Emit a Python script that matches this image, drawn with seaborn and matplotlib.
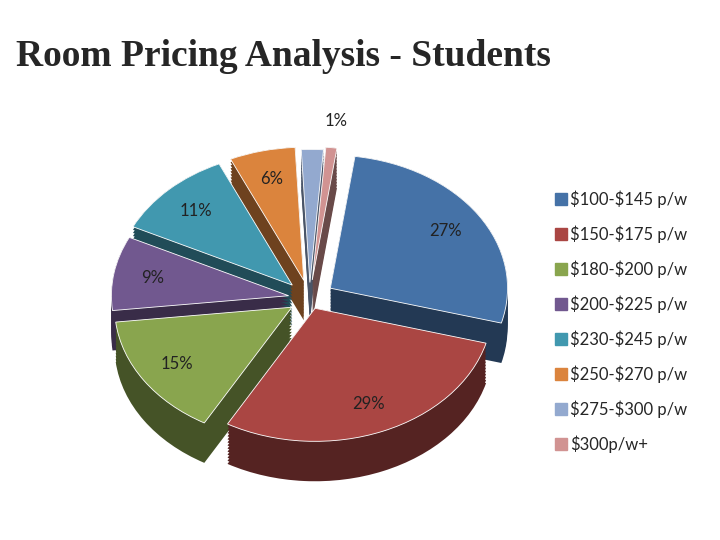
import matplotlib
matplotlib.use("Agg")
import matplotlib.pyplot as plt
import seaborn as sns
import numpy as np
from matplotlib.patches import Patch
from matplotlib.colors import to_rgb

sns.set_theme(style="white")
plt.rcParams['font.family'] = ['Lato', 'DejaVu Sans']
plt.rcParams['text.parse_math'] = False

categories = ["$100-$145 p/w", "$150-$175 p/w", "$180-$200 p/w", "$200-$225 p/w",
              "$230-$245 p/w", "$250-$270 p/w", "$275-$300 p/w", "$300p/w+"]
values = [27, 29, 15, 9, 11, 6, 2, 1]
shown = ["27%", "29%", "15%", "9%", "11%", "6%", "", "1%"]
colors = ["#4572A7", "#AA4643", "#89A54E", "#71588F", "#4198AF", "#DB843D", "#93A9CF", "#D19392"]
explode = [0.14, 0.08, 0.12, 0.12, 0.14, 0.14, 0.12, 0.14]

fig = plt.figure(figsize=(7.2, 5.4), dpi=100)
ax = fig.add_axes([0.11, 0.09, 0.64, 0.69])
dark = [tuple(c * 0.5 for c in to_rgb(col)) for col in colors]
for d in np.linspace(0.3, 0.0, 14):
    ax.pie(values, colors=dark, explode=explode, startangle=82, counterclock=False,
           center=(0, -d), wedgeprops=dict(linewidth=0))
wedges, texts, autotexts = ax.pie(values, colors=colors, explode=explode, startangle=82,
                                  counterclock=False, autopct='%1.0f%%', pctdistance=0.78,
                                  wedgeprops=dict(linewidth=0.6, edgecolor="white"),
                                  textprops=dict(fontsize=12, color="#222222"))
for t, s in zip(autotexts, shown):
    t.set_text(s)
autotexts[7].set_position((0.15, 1.33))
ax.set_aspect('auto')
ax.set_xlim(-1.3, 1.3)
ax.set_ylim(-1.45, 1.35)

handles = [Patch(color=c) for c in colors]
fig.legend(handles, categories, loc="upper left", bbox_to_anchor=(0.75, 0.675),
           frameon=False, fontsize=12, labelspacing=1.05, handlelength=0.7,
           handleheight=0.7, handletextpad=0.2)

fig.text(0.022, 0.895, "Room Pricing Analysis - Students", fontsize=27, fontweight="bold",
         family="Liberation Serif", ha="left", va="center")
fig.savefig("out.png", dpi=100)
